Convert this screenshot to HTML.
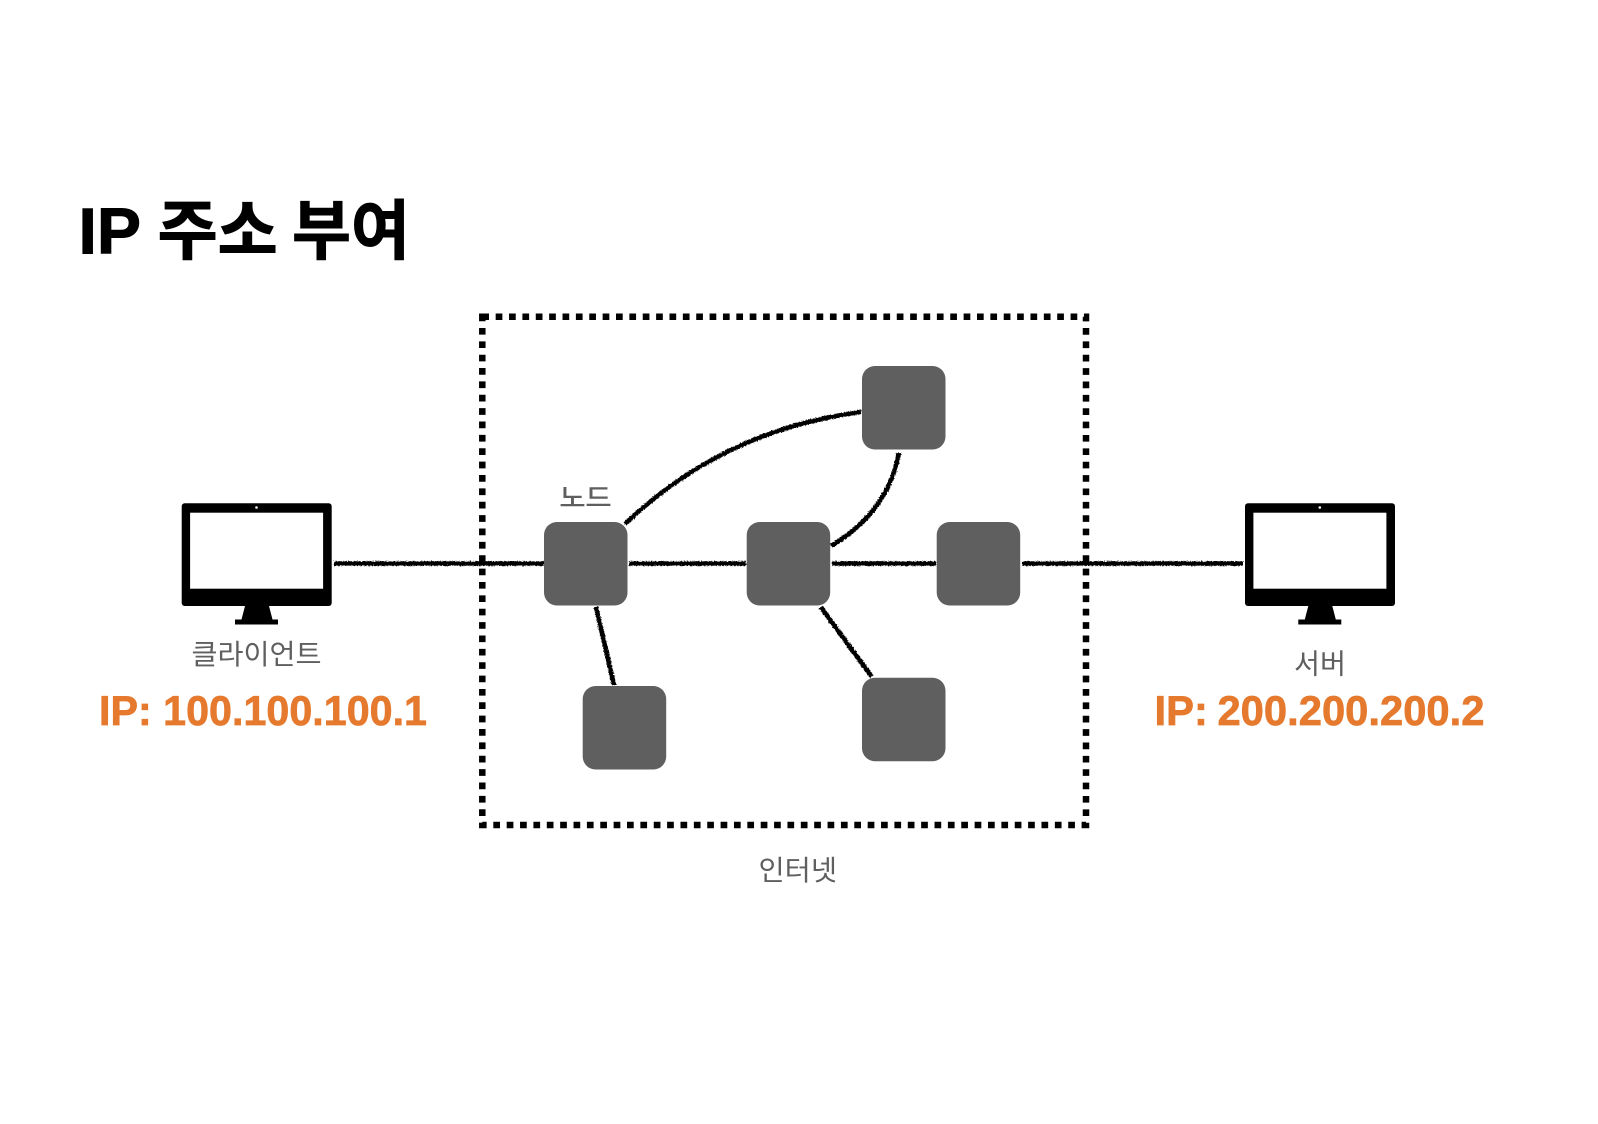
<!DOCTYPE html>
<html><head><meta charset="utf-8"><style>html,body{margin:0;padding:0;background:#fff}svg{display:block}
text{font-family:"Liberation Sans","Noto Sans CJK KR",sans-serif}</style></head><body>
<svg width="1598" height="1124" viewBox="0 0 1598 1124" xmlns="http://www.w3.org/2000/svg">
<defs><filter id="r" x="-5%" y="-5%" width="110%" height="110%" filterUnits="userSpaceOnUse" primitiveUnits="userSpaceOnUse"><feTurbulence type="fractalNoise" baseFrequency="0.7" numOctaves="2" seed="3"/><feDisplacementMap in="SourceGraphic" scale="3" xChannelSelector="R" yChannelSelector="G"/></filter></defs>
<rect width="1598" height="1124" fill="#fff"/>
<g font-size="65" font-weight="700" fill="#000" stroke="#000" stroke-width="1">
<text x="78.5" y="253.5" textLength="62.5" lengthAdjust="spacingAndGlyphs">IP</text>
<text x="157.7" y="253.5" textLength="120" lengthAdjust="spacingAndGlyphs">주소</text>
<text x="292" y="253.5" textLength="118" lengthAdjust="spacingAndGlyphs">부여</text>
</g>
<rect x="482.3" y="316.7" width="603.7" height="508.3" fill="none" stroke="#000" stroke-width="6.5" stroke-dasharray="6.7 6.67"/>
<g fill="none" stroke="#000" stroke-width="4.6" filter="url(#r)" stroke-linecap="butt">
<path d="M334 563.5H544M629 563.5H746M832 563.5H936M1022 563.5H1243"/>
<path d="M625 524Q723 430 861 412"/>
<path d="M899 453Q888 512 831 546"/>
<path d="M596 607L614 685"/>
<path d="M820.7 607L871.7 676.7"/>
</g>
<g fill="#5f5f5f">
<rect x="544" y="522" width="83.5" height="83.5" rx="13"/>
<rect x="746.7" y="522" width="83.5" height="83.5" rx="13"/>
<rect x="936.7" y="522" width="83.5" height="83.5" rx="13"/>
<rect x="862" y="366" width="83.5" height="83.5" rx="13"/>
<rect x="582.7" y="686" width="83.5" height="83.5" rx="13"/>
<rect x="862" y="677.7" width="83.5" height="83.5" rx="13"/>
</g>
<g id="m1">
<rect x="181.7" y="503.3" width="150" height="102.7" rx="3" fill="#000"/>
<rect x="190.1" y="512.7" width="133" height="76" fill="#fff"/>
<circle cx="256.5" cy="507.5" r="1.3" fill="#fff"/>
<path d="M245 606H269L272.5 619.5H278V624.5H235V619.5H241.5Z" fill="#000"/>
</g>
<g>
<rect x="1245" y="503.3" width="150" height="102.7" rx="3" fill="#000"/>
<rect x="1253.4" y="512.7" width="133" height="76" fill="#fff"/>
<circle cx="1319.8" cy="507.5" r="1.3" fill="#fff"/>
<path d="M1308.3 606H1332.3L1335.8 619.5H1341.3V624.5H1298.3V619.5H1304.8Z" fill="#000"/>
</g>
<g fill="#5f5f5f">
<text x="191.5" y="664" font-size="28" textLength="130" lengthAdjust="spacingAndGlyphs">클라이언트</text>
<text x="1294" y="673.5" font-size="28" textLength="52" lengthAdjust="spacingAndGlyphs">서버</text>
<text x="758.5" y="880" font-size="28" textLength="78.5" lengthAdjust="spacingAndGlyphs">인터넷</text>
<text x="559.5" y="507" font-size="26" stroke="#5f5f5f" stroke-width=".5" textLength="52" lengthAdjust="spacingAndGlyphs">노드</text>
</g>
<g fill="#e57a2f" stroke="#e57a2f" stroke-width=".7" font-size="41.5" font-weight="700">
<text x="99" y="725" textLength="328" lengthAdjust="spacingAndGlyphs">IP: 100.100.100.1</text>
<text x="1154.5" y="725" word-spacing="-2" textLength="330" lengthAdjust="spacingAndGlyphs">IP: 200.200.200.2</text>
</g>
</svg>
</body></html>
